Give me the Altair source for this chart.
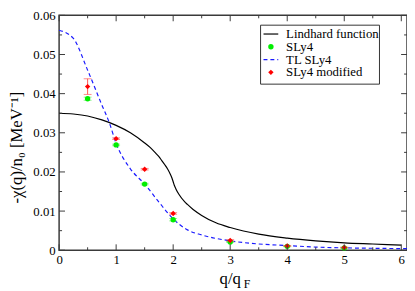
import altair as alt
import pandas as pd

# ---------------- data ----------------
q_lind = [0, 0.25, 0.5, 0.75, 1.0, 1.25, 1.5, 1.6, 1.7, 1.75, 1.8, 1.85, 1.9, 1.95, 1.98,
          2.0, 2.02, 2.05, 2.1, 2.2, 2.25, 2.35, 2.5, 2.75, 3.0, 3.5, 4.0, 4.5, 5.0, 5.5, 6.0]
chi_lind = [0.0350, 0.0348, 0.0343, 0.0333, 0.0319, 0.0300, 0.0274, 0.0262, 0.0247, 0.0239,
            0.0229, 0.0219, 0.0208, 0.0194, 0.0184, 0.0175, 0.0166, 0.0156, 0.0143, 0.0124,
            0.0117, 0.0104, 0.0089, 0.0070, 0.0058, 0.0041, 0.0031, 0.0024, 0.0019, 0.0016, 0.0013]

q_tl = [0, 0.25, 0.5, 0.75, 0.88, 1.0, 1.25, 1.5, 1.75, 2.0, 2.25, 2.5, 3.0, 3.5, 4.0, 4.5, 5.0, 5.5, 6.1]
chi_tl = [0.0562, 0.0541, 0.0460, 0.0371, 0.0326, 0.0273, 0.0208, 0.0169, 0.0123, 0.0080,
          0.0052, 0.0039, 0.0024, 0.0016, 0.0012, 0.0008, 0.0006, 0.0005, 0.0004]

q_pts = [0.5, 1, 1.5, 2, 3, 4, 5]
chi_sly4 = [0.0387, 0.0269, 0.0169, 0.0078, 0.0021, 0.0010, 0.0006]
err_sly4 = [0.0004, 0.0002, 0.0002, 0.0003, 0.0001, 0.0001, 0.0001]
chi_mod = [0.0418, 0.0285, 0.0207, 0.0094, 0.0025, 0.0011, 0.0007]
err_mod = [0.0020, 0.0002, 0.0002, 0.0002, 0.0002, 0.0001, 0.0001]

x_major = [0, 1, 2, 3, 4, 5, 6]
x_minor = [0.5, 1.5, 2.5, 3.5, 4.5, 5.5]
y_major = [0, 0.01, 0.02, 0.03, 0.04, 0.05, 0.06]
y_minor = [0.005, 0.015, 0.025, 0.035, 0.045, 0.055]

legend_labels = ["Lindhard function", "SLy4", "TL SLy4", "SLy4 modified"]
x_title = "q/q"
x_title_sub = "F"
y_title = "-χ(q)/n₀ [MeV⁻¹]"

# ---------------- chart ----------------
FONT = "Liberation Serif"
W, H = 354, 239
FRAME = "#3a3a3a"
xs = alt.Scale(domain=[0, 6.1], nice=False, zero=False)
ys = alt.Scale(domain=[0, 0.06], nice=False, zero=False)

df_lind = pd.DataFrame({"q": q_lind, "chi": chi_lind})
df_tl = pd.DataFrame({"q": q_tl, "chi": chi_tl})
df_s = pd.DataFrame({"q": q_pts, "chi": chi_sly4,
                     "lo": [c - e for c, e in zip(chi_sly4, err_sly4)],
                     "hi": [c + e for c, e in zip(chi_sly4, err_sly4)]})
df_m = pd.DataFrame({"q": q_pts, "chi": chi_mod,
                     "lo": [c - e for c, e in zip(chi_mod, err_mod)],
                     "hi": [c + e for c, e in zip(chi_mod, err_mod)]})

lind = alt.Chart(df_lind).mark_line(color="black", strokeWidth=1.2, interpolate="monotone").encode(
    x=alt.X("q:Q", scale=xs, axis=alt.Axis(
        orient="bottom", values=x_major, format="d", ticks=False, tickSize=0, domain=False,
        grid=False, labelFont=FONT, labelFontSize=13, labelColor="black", labelPadding=4,
        labelFlush=False, title=None)),
    y=alt.Y("chi:Q", scale=ys, axis=alt.Axis(
        orient="left", values=y_major,
        labelExpr="datum.value == 0 ? '0' : format(datum.value, '.2f')",
        ticks=False, tickSize=0, domain=False, grid=False,
        labelFont=FONT, labelFontSize=13, labelColor="black", labelPadding=4,
        title=y_title, titleFont=FONT, titleFontSize=17, titleFontWeight="normal",
        titleColor="black", titlePadding=7, titleY=134)),
)

tl = alt.Chart(df_tl).mark_line(color="#1a1aff", strokeWidth=1.2, strokeDash=[4, 3],
                                interpolate="monotone").encode(
    x=alt.X("q:Q", scale=xs, axis=None), y=alt.Y("chi:Q", scale=ys, axis=None))


def errbars(df, col):
    base = alt.Chart(df)
    r = base.mark_rule(color=col, strokeWidth=1).encode(
        x=alt.X("q:Q", scale=xs, axis=None), y=alt.Y("lo:Q", scale=ys, axis=None), y2="hi:Q")
    t1 = base.mark_tick(color=col, orient="horizontal", size=8, thickness=1).encode(
        x=alt.X("q:Q", scale=xs, axis=None), y=alt.Y("lo:Q", scale=ys, axis=None))
    t2 = base.mark_tick(color=col, orient="horizontal", size=8, thickness=1).encode(
        x=alt.X("q:Q", scale=xs, axis=None), y=alt.Y("hi:Q", scale=ys, axis=None))
    return [r, t1, t2]


green_pts = alt.Chart(df_s).mark_point(shape="circle", filled=True, size=30, color="#00ee00",
                                       opacity=1).encode(
    x=alt.X("q:Q", scale=xs, axis=None), y=alt.Y("chi:Q", scale=ys, axis=None))
red_pts = alt.Chart(df_m).mark_point(shape="diamond", filled=True, size=30, color="#ff0000",
                                     opacity=1).encode(
    x=alt.X("q:Q", scale=xs, axis=None), y=alt.Y("chi:Q", scale=ys, axis=None))


def tick_rules(vals, chan, p0, p1):
    d = pd.DataFrame({"v": vals})
    m = alt.Chart(d).mark_rule(color=FRAME, strokeWidth=1)
    if chan == "x":
        return m.encode(x=alt.X("v:Q", scale=xs, axis=None), y=alt.value(p0), y2=alt.value(p1))
    return m.encode(y=alt.Y("v:Q", scale=ys, axis=None), x=alt.value(p0), x2=alt.value(p1))


ticks = [
    tick_rules(x_major, "x", H, H - 6), tick_rules(x_minor, "x", H, H - 3),
    tick_rules(x_major, "x", 0, 6), tick_rules(x_minor, "x", 0, 3),
    tick_rules(y_major, "y", 0, 6), tick_rules(y_minor, "y", 0, 3),
    tick_rules(y_major, "y", W, W - 6), tick_rules(y_minor, "y", W, W - 3),
]

one = pd.DataFrame({"a": [0]})
leg_box = alt.Chart(one).mark_rect(fill="white", stroke="#333333", strokeWidth=1).encode(
    x=alt.value(205), x2=alt.value(326), y=alt.value(10), y2=alt.value(70))
leg_y = [19, 32, 45, 58]
leg_items = [
    alt.Chart(one).mark_rule(color="black", strokeWidth=1.2).encode(
        x=alt.value(208), x2=alt.value(223), y=alt.value(leg_y[0])),
    alt.Chart(one).mark_point(shape="circle", filled=True, size=30, color="#00ee00", opacity=1).encode(
        x=alt.value(215.5), y=alt.value(leg_y[1])),
    alt.Chart(one).mark_rule(color="#1a1aff", strokeWidth=1.2, strokeDash=[4, 3]).encode(
        x=alt.value(208), x2=alt.value(223), y=alt.value(leg_y[2])),
    alt.Chart(one).mark_point(shape="diamond", filled=True, size=30, color="#ff0000", opacity=1).encode(
        x=alt.value(215.5), y=alt.value(leg_y[3])),
]
for lbl, yy in zip(legend_labels, leg_y):
    leg_items.append(
        alt.Chart(pd.DataFrame({"t": [lbl]})).mark_text(
            align="left", baseline="middle", font=FONT, fontSize=13, color="black").encode(
            x=alt.value(231), y=alt.value(yy), text="t:N"))

xt1 = alt.Chart(pd.DataFrame({"t": [x_title]})).mark_text(
    align="right", baseline="alphabetic", font=FONT, fontSize=17, color="black").encode(
    x=alt.value(185), y=alt.value(H + 34), text="t:N")
xt2 = alt.Chart(pd.DataFrame({"t": [x_title_sub]})).mark_text(
    align="left", baseline="alphabetic", font=FONT, fontSize=12, color="black").encode(
    x=alt.value(188), y=alt.value(H + 38), text="t:N")

layers = [lind, tl] + errbars(df_s, "#66ee66") + errbars(df_m, "#ff5555") + \
    [green_pts, red_pts] + ticks + [leg_box] + leg_items + [xt1, xt2]

chart = alt.layer(*layers).resolve_axis(x="independent", y="independent").properties(
    width=W, height=H,
    autosize=alt.AutoSizeParams(type="none"),
    padding={"left": 52, "top": 5, "right": 0, "bottom": 39},
).configure_view(stroke=FRAME, strokeWidth=1.5)

chart.save("out.html", embed_options={"renderer": "svg", "actions": False})
